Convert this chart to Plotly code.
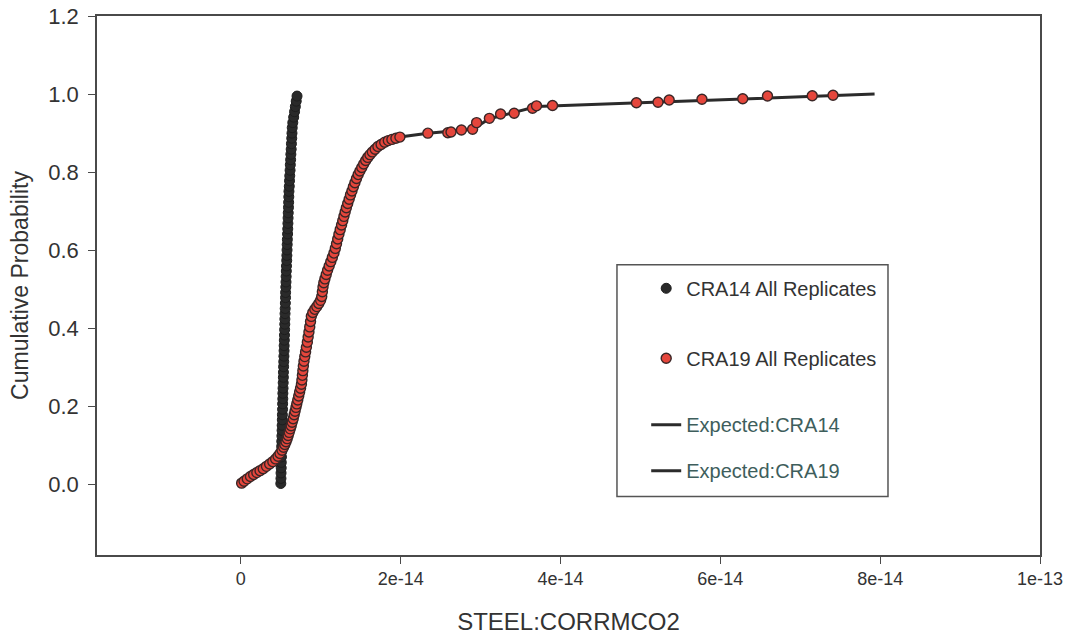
import plotly.graph_objects as go

# STEEL:CORRMCO2 cumulative distributions, CRA14 vs CRA19 (all replicates)
cra14_x = [5.00e-15, 5.02e-15, 5.03e-15, 5.05e-15, 5.06e-15, 5.08e-15, 5.09e-15, 5.11e-15,
           5.12e-15, 5.14e-15, 5.16e-15, 5.17e-15, 5.19e-15, 5.20e-15, 5.22e-15, 5.23e-15,
           5.25e-15, 5.26e-15, 5.28e-15, 5.30e-15, 5.32e-15, 5.33e-15, 5.35e-15, 5.37e-15,
           5.39e-15, 5.41e-15, 5.42e-15, 5.44e-15, 5.46e-15, 5.48e-15, 5.50e-15, 5.51e-15,
           5.53e-15, 5.55e-15, 5.57e-15, 5.59e-15, 5.60e-15, 5.63e-15, 5.65e-15, 5.67e-15,
           5.69e-15, 5.71e-15, 5.74e-15, 5.76e-15, 5.78e-15, 5.80e-15, 5.82e-15, 5.85e-15,
           5.87e-15, 5.89e-15, 5.91e-15, 5.93e-15, 5.96e-15, 5.98e-15, 6.00e-15, 6.02e-15,
           6.06e-15, 6.09e-15, 6.12e-15, 6.16e-15, 6.19e-15, 6.23e-15, 6.26e-15, 6.30e-15,
           6.33e-15, 6.37e-15, 6.40e-15, 6.43e-15, 6.50e-15, 6.61e-15, 6.72e-15, 6.82e-15,
           6.93e-15, 7.03e-15]
cra14_p = [0.003, 0.016, 0.030, 0.043, 0.057, 0.071, 0.084, 0.098,
           0.111, 0.125, 0.139, 0.152, 0.166, 0.179, 0.193, 0.207,
           0.220, 0.234, 0.247, 0.261, 0.275, 0.288, 0.302, 0.315,
           0.329, 0.343, 0.356, 0.370, 0.383, 0.397, 0.411, 0.424,
           0.438, 0.451, 0.465, 0.479, 0.492, 0.506, 0.519, 0.533,
           0.547, 0.560, 0.574, 0.587, 0.601, 0.615, 0.628, 0.642,
           0.655, 0.669, 0.683, 0.696, 0.710, 0.723, 0.737, 0.751,
           0.764, 0.778, 0.791, 0.805, 0.819, 0.832, 0.846, 0.859,
           0.873, 0.887, 0.900, 0.914, 0.927, 0.941, 0.955, 0.968,
           0.982, 0.995]

cra19_x = [0.1e-15, 0.4e-15, 0.8e-15, 1.2e-15, 1.6e-15, 2.0e-15, 2.4e-15, 2.8e-15,
           3.2e-15, 3.6e-15, 4.0e-15, 4.35e-15, 4.65e-15, 4.9e-15, 5.15e-15, 5.35e-15,
           5.5e-15, 5.65e-15, 5.8e-15, 5.92e-15, 6.05e-15, 6.18e-15, 6.3e-15, 6.42e-15,
           6.55e-15, 6.67e-15, 6.78e-15, 6.9e-15, 7.0e-15, 7.12e-15, 7.24e-15, 7.35e-15,
           7.47e-15, 7.58e-15, 7.64e-15, 7.7e-15, 7.76e-15, 7.82e-15, 7.9e-15, 8.0e-15,
           8.1e-15, 8.2e-15, 8.32e-15, 8.42e-15, 8.52e-15, 8.62e-15, 8.72e-15, 8.82e-15,
           9.0e-15, 9.25e-15, 9.5e-15, 9.75e-15, 9.98e-15, 10.12e-15, 10.2e-15, 10.28e-15,
           10.38e-15, 10.52e-15, 10.68e-15, 10.85e-15, 11.05e-15, 11.25e-15, 11.45e-15, 11.65e-15,
           11.82e-15, 11.97e-15, 12.12e-15, 12.27e-15, 12.43e-15, 12.6e-15, 12.75e-15, 12.9e-15,
           13.05e-15, 13.2e-15, 13.37e-15, 13.55e-15, 13.72e-15, 13.9e-15, 14.08e-15, 14.27e-15,
           14.47e-15, 14.68e-15, 14.9e-15, 15.13e-15, 15.37e-15, 15.62e-15, 15.88e-15, 16.15e-15,
           16.45e-15, 16.8e-15, 17.15e-15, 17.55e-15, 18.0e-15, 18.45e-15, 18.9e-15, 19.4e-15,
           19.9e-15, 23.4e-15, 25.9e-15, 26.3e-15, 27.6e-15, 29.0e-15, 29.5e-15, 31.1e-15,
           32.5e-15, 34.2e-15, 36.5e-15, 37.0e-15, 39.0e-15, 49.5e-15, 52.2e-15, 53.6e-15,
           57.7e-15, 62.8e-15, 65.9e-15, 71.5e-15, 74.1e-15]
cra19_p = [0.004, 0.009, 0.015, 0.021, 0.026, 0.031, 0.036, 0.041,
           0.047, 0.053, 0.059, 0.066, 0.073, 0.080, 0.088, 0.096,
           0.103, 0.110, 0.118, 0.126, 0.134, 0.143, 0.151, 0.160,
           0.169, 0.179, 0.188, 0.198, 0.207, 0.217, 0.227, 0.237,
           0.247, 0.257, 0.268, 0.280, 0.292, 0.304, 0.316, 0.328,
           0.340, 0.352, 0.365, 0.378, 0.391, 0.404, 0.418, 0.431,
           0.441, 0.449, 0.456, 0.464, 0.472, 0.482, 0.494, 0.506,
           0.517, 0.527, 0.538, 0.549, 0.560, 0.571, 0.582, 0.593,
           0.605, 0.617, 0.629, 0.641, 0.653, 0.665, 0.676, 0.687,
           0.698, 0.709, 0.720, 0.731, 0.742, 0.752, 0.763, 0.773,
           0.784, 0.794, 0.803, 0.812, 0.821, 0.830, 0.838, 0.845,
           0.852, 0.859, 0.866, 0.871, 0.877, 0.881, 0.884, 0.887,
           0.890, 0.900, 0.901, 0.903, 0.908, 0.910, 0.927, 0.938,
           0.949, 0.951, 0.964, 0.970, 0.971, 0.978, 0.979, 0.985,
           0.987, 0.988, 0.995, 0.996, 0.997]

exp14_x = [5.00e-15, 5.27e-15, 5.60e-15, 6.02e-15, 6.45e-15, 7.05e-15]
exp14_p = [0.0, 0.24, 0.49, 0.75, 0.92, 1.0]

exp19_x = [0.0, 5.0e-15, 7.2e-15, 8.8e-15, 10.3e-15, 12.6e-15, 14.5e-15, 17.0e-15,
           19.9e-15, 23.4e-15, 29.0e-15, 31.1e-15, 37.0e-15, 49.5e-15, 62.8e-15,
           74.1e-15, 79.3e-15]
exp19_p = [0.0, 0.085, 0.22, 0.43, 0.50, 0.665, 0.785, 0.865,
           0.89, 0.90, 0.91, 0.937, 0.968, 0.977, 0.987,
           0.996, 1.0]

x_ticks = [0, 2e-14, 4e-14, 6e-14, 8e-14, 1e-13]
x_tick_text = ["0", "2e-14", "4e-14", "6e-14", "8e-14", "1e-13"]
y_ticks = [0.0, 0.2, 0.4, 0.6, 0.8, 1.0, 1.2]

FONT = "Liberation Sans, Arial, sans-serif"
AXIS_COLOR = "#4a4a4a"
TEXT_COLOR = "#333333"
LINE_COLOR = "#2b2b2b"

fig = go.Figure()

fig.add_trace(go.Scatter(
    x=exp14_x, y=exp14_p, mode="lines", name="Expected:CRA14",
    line=dict(color=LINE_COLOR, width=3), legend="legend2", legendgroup="c"))
fig.add_trace(go.Scatter(
    x=cra14_x, y=cra14_p, mode="markers", name="CRA14 All Replicates",
    marker=dict(color="#2a2a2a", size=10, line=dict(color="#1e1e1e", width=1)),
    legend="legend", legendgroup="a"))
fig.add_trace(go.Scatter(
    x=exp19_x, y=exp19_p, mode="lines", name="Expected:CRA19",
    line=dict(color=LINE_COLOR, width=3), legend="legend2", legendgroup="d"))
fig.add_trace(go.Scatter(
    x=cra19_x, y=cra19_p, mode="markers", name="CRA19 All Replicates",
    marker=dict(color="#e5463c", size=10, line=dict(color="#3a2626", width=1.4)),
    legend="legend", legendgroup="b"))

# frame drawn around the legend entries
fig.add_shape(type="rect", xref="paper", yref="paper",
              x0=0.5514, x1=0.8388, y0=0.1084, y1=0.5385,
              line=dict(color="#555555", width=1.5), fillcolor="rgba(0,0,0,0)")

fig.update_layout(
    width=1070, height=635,
    margin=dict(l=97, r=30, t=16, b=80, autoexpand=False),
    paper_bgcolor="white", plot_bgcolor="white",
    font=dict(family=FONT, color=TEXT_COLOR),
    showlegend=True,
    legend=dict(x=0.5824, y=0.531, xanchor="left", yanchor="top",
                bgcolor="rgba(0,0,0,0)", borderwidth=0,
                font=dict(family=FONT, size=20, color=TEXT_COLOR),
                tracegroupgap=41, traceorder="grouped"),
    legend2=dict(x=0.5824, y=0.278, xanchor="left", yanchor="top",
                 bgcolor="rgba(0,0,0,0)", borderwidth=0,
                 font=dict(family=FONT, size=20, color="#3e5e5c"),
                 tracegroupgap=17, traceorder="grouped"),
    xaxis=dict(range=[-1.8e-14, 1e-13], tickvals=x_ticks, ticktext=x_tick_text,
               automargin=False,
               showgrid=False, zeroline=False, showline=True, linecolor=AXIS_COLOR,
               linewidth=1.5, mirror=True, ticks="outside", ticklen=7,
               tickcolor=AXIS_COLOR, tickfont=dict(size=18, color=TEXT_COLOR),
               title=dict(text="STEEL:CORRMCO2", font=dict(size=24, color=TEXT_COLOR),
                          standoff=26)),
    yaxis=dict(range=[-0.18, 1.2], tickvals=y_ticks, tickformat=".1f",
               automargin=False,
               showgrid=False, zeroline=False, showline=True, linecolor=AXIS_COLOR,
               linewidth=1.5, mirror=True, ticks="outside", ticklen=7,
               ticklabelstandoff=5,
               tickcolor=AXIS_COLOR, tickfont=dict(size=22, color=TEXT_COLOR),
               title=dict(text="Cumulative Probability", font=dict(size=23, color=TEXT_COLOR),
                          standoff=13)),
)

fig.write_html("out.html")
